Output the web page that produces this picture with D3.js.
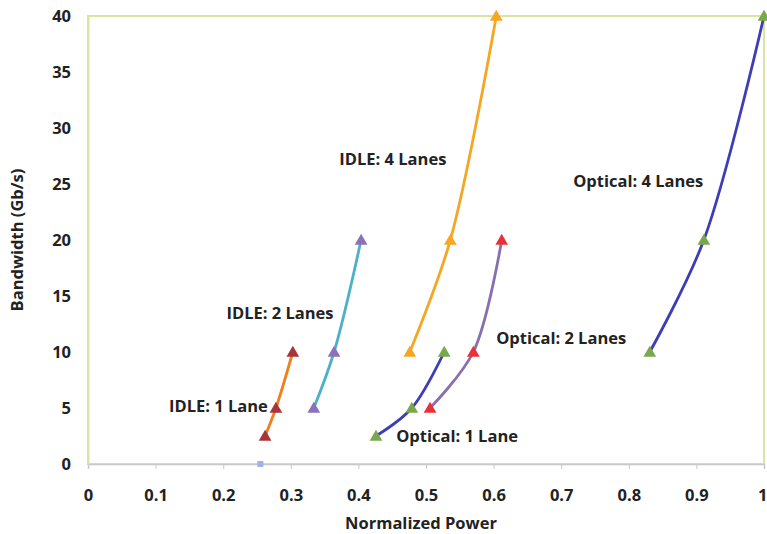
<!DOCTYPE html>
<html><head><meta charset="utf-8">
<script src="https://cdn.jsdelivr.net/npm/d3@7"></script>
<style>
html,body{margin:0;padding:0;background:#fff;}
text{font-family:"Open Sans",Lato,sans-serif;font-weight:bold;fill:#222;}
</style></head>
<body><svg id="c" width="767" height="534"></svg>
<script>
const xTicks = [0,0.1,0.2,0.3,0.4,0.5,0.6,0.7,0.8,0.9,1];
const yTicks = [0,5,10,15,20,25,30,35,40];
const idle1 = [[0.262,2.5],[0.278,5],[0.303,10]];
const idle2 = [[0.334,5],[0.364,10],[0.404,20]];
const idle4 = [[0.476,10],[0.536,20],[0.604,40]];
const opt1 = [[0.426,2.5],[0.479,5],[0.527,10]];
const opt2 = [[0.506,5],[0.570,10],[0.612,20]];
const opt4 = [[0.831,10],[0.911,20],[1.0,40]];
const origin = [[0.255,0]];
const series = [
  {name:"IDLE: 1 Lane", data:idle1, line:"#f07f1e", marker:"#a8343a", lx:0.193, ly:5.0},
  {name:"IDLE: 2 Lanes", data:idle2, line:"#4bb0c8", marker:"#8a72b8", lx:0.284, ly:13.3},
  {name:"IDLE: 4 Lanes", data:idle4, line:"#f5a623", marker:"#f5a623", lx:0.451, ly:27.1},
  {name:"Optical: 1 Lane", data:opt1, line:"#3d3db8", marker:"#78a84a", lx:0.546, ly:2.35},
  {name:"Optical: 2 Lanes", data:opt2, line:"#8a6fb0", marker:"#e8323a", lx:0.70, ly:11.1},
  {name:"Optical: 4 Lanes", data:opt4, line:"#3d3db8", marker:"#78a84a", lx:0.814, ly:25.1}
];
const svg = d3.select("#c");
const L=88, R=764, T=16, B=464;
const FS = "16.5px";
const x = d3.scaleLinear().domain([0,1]).range([L,R]);
const y = d3.scaleLinear().domain([0,40]).range([B,T]);
svg.append("rect").attr("x",L).attr("y",T).attr("width",R-L).attr("height",B-T)
  .attr("fill","none").attr("stroke","#d8e6a2").attr("stroke-width",2);
const xa = svg.append("g").attr("transform",`translate(0,${B})`)
  .call(d3.axisBottom(x).tickValues(xTicks).tickFormat(d=>d3.format("")(d)).tickSize(5).tickPadding(20));
xa.select(".domain").attr("stroke","#c8c8c8").attr("stroke-width",1.5);
xa.selectAll(".tick line").attr("stroke","#c8c8c8");
xa.selectAll("text").style("font-size",FS).attr("fill","#222");
xa.selectAll(".tick").filter(d=>d===1).select("text").attr("text-anchor","end").attr("x",3);
const ya = svg.append("g").attr("transform",`translate(${L},0)`)
  .call(d3.axisLeft(y).tickValues(yTicks).tickSize(0).tickPadding(17));
ya.select(".domain").attr("stroke","#d8e6a2").attr("stroke-width",2);
ya.selectAll("text").style("font-size",FS).attr("fill","#222");
svg.append("text").attr("x",(L+R)/2-5).attr("y",529).attr("text-anchor","middle")
  .style("font-size",FS).text("Normalized Power");
svg.append("text").attr("transform",`translate(23,${(T+B)/2}) rotate(-90)`).attr("text-anchor","middle")
  .style("font-size",FS).text("Bandwidth (Gb/s)");
const line = d3.line().x(d=>x(d[0])).y(d=>y(d[1])).curve(d3.curveCatmullRom.alpha(0.5));
const tri = d3.symbol().type(d3.symbolTriangle).size(70);
series.forEach(s=>{
  svg.append("path").attr("d",line(s.data)).attr("fill","none").attr("stroke",s.line).attr("stroke-width",2.8);
  svg.selectAll(null).data(s.data).enter().append("path").attr("d",tri)
    .attr("transform",d=>`translate(${x(d[0])},${y(d[1])+1})`).attr("fill",s.marker);
  svg.append("text").attr("x",x(s.lx)).attr("y",y(s.ly)).attr("text-anchor","middle")
    .attr("dominant-baseline","middle").style("font-size",FS).text(s.name);
});
svg.selectAll(null).data(origin).enter().append("rect")
  .attr("x",d=>x(d[0])-3).attr("y",d=>y(d[1])-3).attr("width",6).attr("height",6).attr("fill","#9db4e6");
</script></body></html>
